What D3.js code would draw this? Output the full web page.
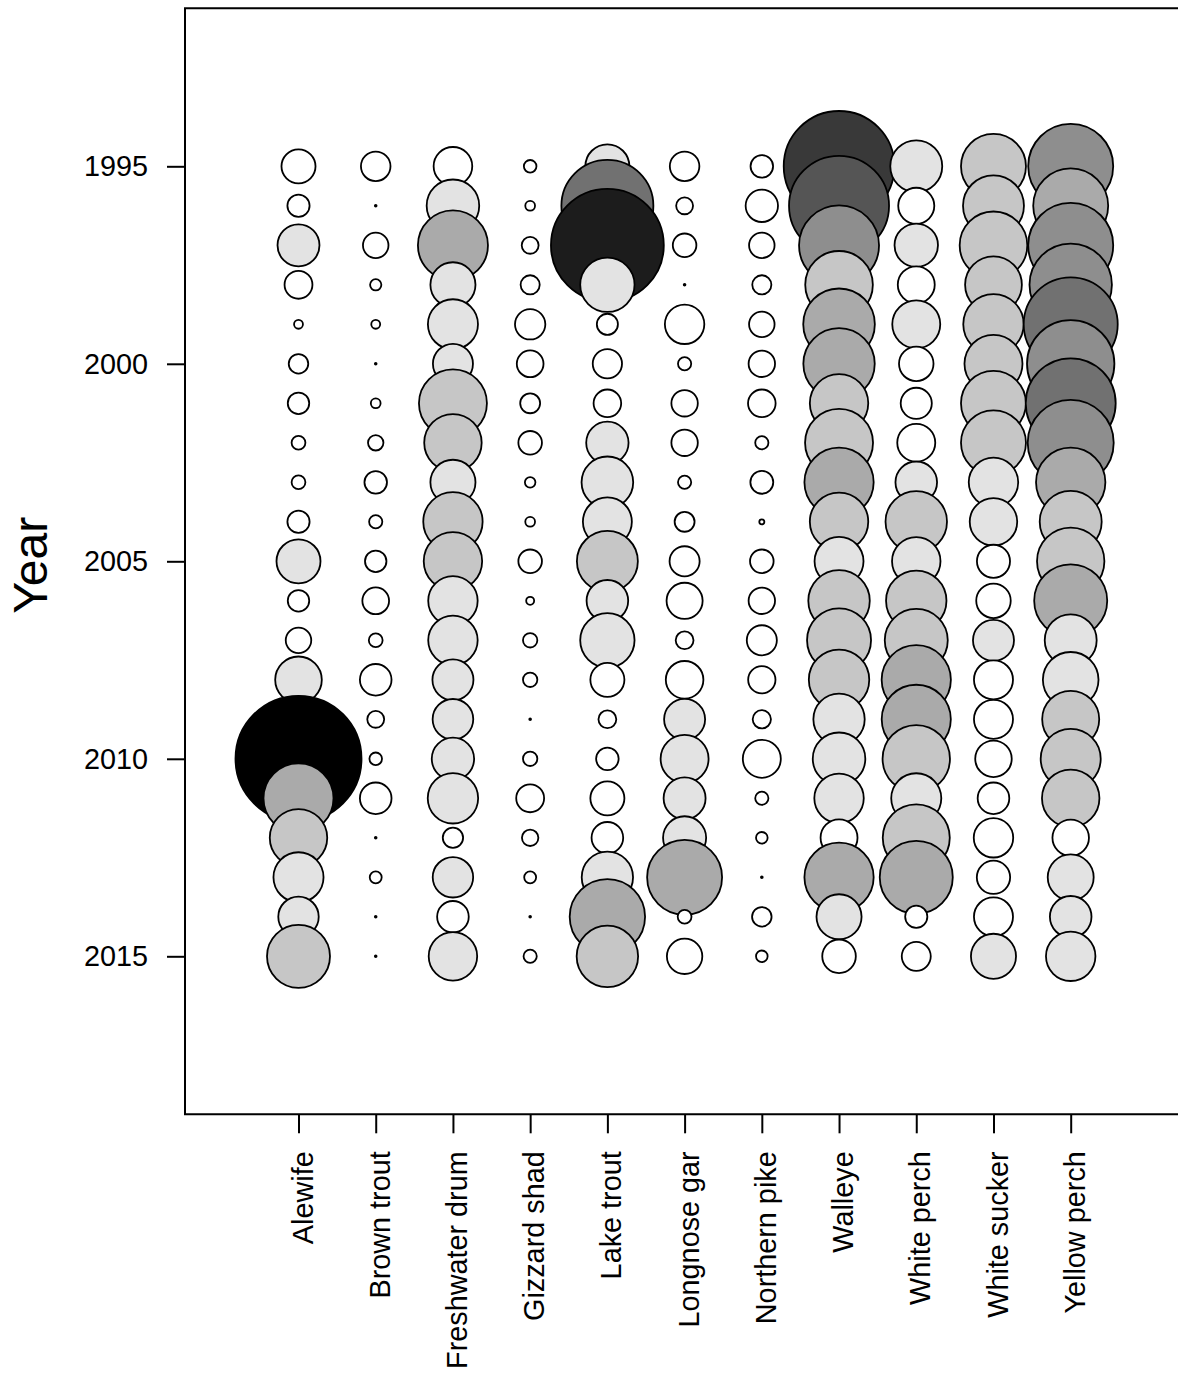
<!DOCTYPE html>
<html lang="en">
<head>
    <meta charset="UTF-8">
    <title>Catch by species and year</title>
    <script src="https://cdn.jsdelivr.net/npm/d3@7"></script>
</head>
<style>
    body { margin: 0; background: #ffffff; }
    svg text { font-family: "Liberation Sans", Arial, sans-serif; fill: #000; }
    .axis path { display: none; }
    .axis line { stroke: #000; stroke-width: 2px; }
</style>
<body>
<div id="output"></div>

<script>

var species = ["Alewife", "Brown trout", "Freshwater drum", "Gizzard shad", "Lake trout",
               "Longnose gar", "Northern pike", "Walleye", "White perch", "White sucker", "Yellow perch"];

var years = [1995, 1996, 1997, 1998, 1999, 2000, 2001, 2002, 2003, 2004, 2005,
             2006, 2007, 2008, 2009, 2010, 2011, 2012, 2013, 2014, 2015];

var yearTicks = [1995, 2000, 2005, 2010, 2015];

// relative abundance (0-100), one value per year 1995..2015
var alewife        = [7.3, 3.1, 11.1, 4.9, 0.5, 2.4, 2.9, 1.2, 1.2, 3.1, 12.2, 2.9, 4.1, 13.7, 8.0, 100, 30.9, 20.8, 15.8, 10.3, 25.0];
var brownTrout     = [5.5, 0.02, 4.1, 0.8, 0.5, 0.02, 0.6, 1.5, 3.2, 1.1, 2.9, 4.5, 1.2, 6.3, 1.8, 1.0, 6.3, 0.02, 0.9, 0.02, 0.02];
var freshwaterDrum = [9.4, 17.4, 30.9, 12.8, 15.8, 10.1, 29.1, 20.8, 12.8, 22.2, 21.5, 15.4, 15.4, 10.6, 10.4, 11.3, 16.0, 2.6, 10.3, 6.3, 14.8];
var gizzardShad    = [1.0, 0.6, 1.8, 2.3, 5.8, 4.5, 2.5, 3.5, 0.7, 0.6, 3.5, 0.4, 1.3, 1.3, 0.02, 1.3, 4.9, 1.7, 0.9, 0.02, 1.1];
var lakeTrout      = [12.2, 53.3, 80.2, 18.6, 2.8, 5.4, 4.8, 11.3, 16.8, 15.1, 23.4, 10.9, 18.6, 7.3, 2.0, 3.2, 7.3, 6.3, 16.6, 35.8, 23.8];
var longnoseGar    = [5.5, 1.8, 3.5, 0.02, 9.8, 1.1, 4.4, 4.4, 1.1, 2.5, 5.7, 8.2, 2.0, 8.9, 10.6, 14.5, 11.1, 11.7, 35.4, 1.2, 7.9];
var northernPike   = [3.2, 6.6, 4.1, 2.3, 4.1, 4.4, 4.8, 1.1, 3.3, 0.16, 3.5, 4.4, 5.7, 4.7, 2.1, 9.1, 1.1, 0.85, 0.02, 2.4, 0.85];
var walleye        = [77.1, 63.0, 40.3, 28.8, 32.3, 32.1, 21.5, 29.1, 30.2, 21.5, 15.1, 23.8, 25.8, 23.0, 16.6, 17.4, 15.4, 8.6, 30.2, 12.8, 7.1];
var whitePerch     = [17.0, 8.2, 11.9, 8.6, 14.5, 7.5, 6.1, 9.1, 10.9, 23.8, 14.8, 23.0, 25.0, 30.2, 30.1, 28.6, 15.8, 28.3, 33.6, 3.1, 5.3];
var whiteSucker    = [26.6, 23.4, 28.8, 20.3, 23.0, 21.2, 26.6, 26.6, 15.4, 14.2, 6.9, 7.5, 10.6, 9.6, 9.6, 8.4, 6.3, 9.8, 7.0, 9.6, 12.8];
var yellowPerch    = [45.5, 35.4, 45.5, 42.8, 55.7, 48.1, 51.0, 46.6, 30.3, 24.2, 28.6, 33.6, 17.0, 19.5, 20.5, 22.7, 20.8, 8.4, 13.3, 10.9, 15.4];

var series = [alewife, brownTrout, freshwaterDrum, gizzardShad, lakeTrout, longnoseGar,
              northernPike, walleye, whitePerch, whiteSucker, yellowPerch];

var w = 1178;
var h = 1380;

var plotLeft = 185, plotTop = 8.3, plotRight = 1178, plotBottom = 1114.3;

var svg = d3.select("#output")
            .append("svg")
            .attr("width", w)
            .attr("height", h);

var xScale = d3.scalePoint()
        .domain(species)
        .range([298.5, 1070.7]);

var yScale = d3.scaleLinear()
        .domain([1991, 2019])
        .range([plotTop, plotBottom]);

var maxValue = 100;
var rScale = d3.scaleSqrt()
        .domain([0, maxValue])
        .range([0, 63]);

// ten grey classes, white to black
var fillScale = d3.scaleQuantize()
        .domain([0, maxValue])
        .range(d3.quantize(d3.interpolateRgb("#ffffff", "#000000"), 10));

var points = [];
species.forEach(function(s, i) {
    years.forEach(function(y, j) {
        points.push({ species: s, year: y, value: series[i][j] });
    });
});

svg.append("g")
    .selectAll("circle")
    .data(points)
    .enter()
    .append("circle")
        .attr("cx", function(d){ return xScale(d.species); })
        .attr("cy", function(d){ return yScale(d.year); })
        .attr("r", function(d){ return rScale(d.value); })
        .attr("fill", function(d){ return fillScale(d.value); })
        .attr("stroke", "#000")
        .attr("stroke-width", 1.8);

// frame: top, left and bottom sides
svg.append("path")
    .attr("d", "M" + plotRight + "," + plotTop + "H" + plotLeft + "V" + plotBottom + "H" + plotRight)
    .attr("fill", "none")
    .attr("stroke", "#000")
    .attr("stroke-width", 2);

var yAxis = svg.append("g")
    .attr("class", "axis")
    .attr("transform", "translate(" + plotLeft + ",0)")
    .call(d3.axisLeft(yScale).tickValues(yearTicks).tickSize(18).tickPadding(19).tickFormat(d3.format("d")));

yAxis.selectAll("text")
    .style("font-size", "28.8px");

var xAxis = svg.append("g")
    .attr("class", "axis")
    .attr("transform", "translate(0," + plotBottom + ")")
    .call(d3.axisBottom(xScale).tickSize(19));

xAxis.selectAll("text")
    .attr("transform", "rotate(-90)")
    .attr("x", -37)
    .attr("y", 0)
    .attr("dy", "0.47em")
    .attr("text-anchor", "end")
    .style("font-size", "28.8px");

svg.append("text")
    .attr("transform", "translate(47," + ((plotTop + plotBottom) / 2 + 4) + ") rotate(-90)")
    .attr("text-anchor", "middle")
    .style("font-size", "48px")
    .text("Year");

</script>
</body>
</html>
